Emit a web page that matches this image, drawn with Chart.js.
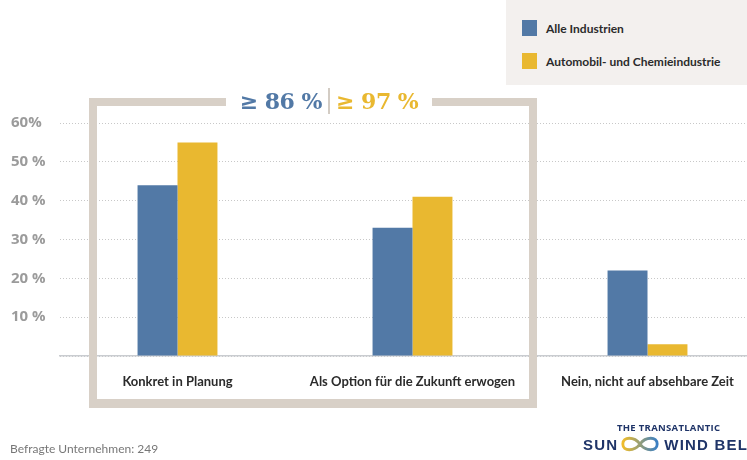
<!DOCTYPE html>
<html lang="de">
<head>
  <meta charset="UTF-8" />
  <title>Umstellung auf erneuerbare Energien</title>
  <script src="https://cdn.jsdelivr.net/npm/chart.js"></script>
  <style>
    * { box-sizing: border-box; }
    html, body {
      margin: 0;
      width: 747px;
      height: 460px;
      overflow: hidden;
      background: #fff;
      font-family: 'Lato', sans-serif;
    }
    #wrap { position: relative; width: 747px; height: 460px; overflow: hidden; }
    #chart { position: absolute; left: 0; top: 0; }
    .legend {
      position: absolute;
      left: 506px; top: 0;
      width: 241px; height: 85px;
      background: #f3f0ee;
      padding: 20px 0 0 16px;
    }
    .legend-item {
      display: flex; align-items: center;
      font: bold 12px 'Lato', sans-serif;
      color: #2b2b2b;
      height: 16px;
      margin-bottom: 17px;
    }
    .legend-item span.box { width: 15px; height: 16px; margin-right: 9px; }
    .frame-side {
      position: absolute; background: #d8d0c7;
    }
    .badge {
      position: absolute; top: 88px; left: 226px; width: 206px;
      text-align: center;
      font: bold 22px 'DejaVu Serif', serif;
      letter-spacing: -0.5px;
    }
    .badge .sep { display: inline-block; width: 2px; height: 26px; background: #d3ccc4; vertical-align: -5px; margin: 0 6px; }
    .note {
      position: absolute; left: 10px; top: 441px;
      font: 12px 'Lato', sans-serif; color: #777;
    }
    .logo { position: absolute; left: 583px; top: 421px; color: #1f3468; white-space: nowrap; }
    .logo .small { font: bold 9.5px 'Open Sans', sans-serif; margin-left: 34px; letter-spacing: 0.3px; }
    .logo .big { font: bold 15px 'Liberation Sans', sans-serif; letter-spacing: 1.2px; display: flex; align-items: center; }
  </style>
</head>
<body>
<div id="wrap">
  <canvas id="chart" width="770" height="460"></canvas>

  <div class="frame-side" style="left:89px; top:98px; width:8px; height:310px;"></div>
  <div class="frame-side" style="left:529px; top:98px; width:8px; height:310px;"></div>
  <div class="frame-side" style="left:89px; top:399px; width:448px; height:9px;"></div>
  <div class="frame-side" style="left:89px; top:98px; width:137px; height:8px;"></div>
  <div class="frame-side" style="left:432px; top:98px; width:105px; height:8px;"></div>
  <div class="badge">
    <span style="color:#5279a6">&ge; 86 %</span><span class="sep"></span><span style="color:#e9b830">&ge; 97 %</span>
  </div>

  <div class="legend" id="legend"></div>

  <div class="note">Befragte Unternehmen: 249</div>
  <div class="logo">
    <div class="small">THE TRANSATLANTIC</div>
    <div class="big">SUN
      <svg width="42" height="20" viewBox="0 0 44 20" style="margin:0 3px 0 1px">
        <defs>
          <linearGradient id="g" x1="0" x2="1">
            <stop offset="0" stop-color="#f0bd2a"/><stop offset="1" stop-color="#3a7fc4"/>
          </linearGradient>
        </defs>
        <path d="M4 10 C4 2 16 2 22 10 C28 18 40 18 40 10 C40 2 28 2 22 10 C16 18 4 18 4 10 Z" fill="none" stroke="url(#g)" stroke-width="3"/>
      </svg>WIND BELT</div>
  </div>
</div>

<script>
  const categories = ["Konkret in Planung", "Als Option für die Zukunft erwogen", "Nein, nicht auf absehbare Zeit"];
  const seriesNames = ["Alle Industrien", "Automobil- und Chemieindustrie"];
  const alleIndustrien = [44, 33, 22];
  const automobilChemie = [55, 41, 3];
  const seriesColors = ["#5279a6", "#e9b830"];
  const yTicks = [10, 20, 30, 40, 50, 60];

  // HTML-Legende aus den Datensätzen
  const legend = document.getElementById("legend");
  seriesNames.forEach((name, i) => {
    const item = document.createElement("div");
    item.className = "legend-item";
    item.innerHTML = '<span class="box" style="background:' + seriesColors[i] + '"></span>' + name;
    legend.appendChild(item);
  });

  const ctx = document.getElementById("chart").getContext("2d");
  new Chart(ctx, {
    type: "bar",
    data: {
      labels: categories,
      datasets: [
        { label: seriesNames[0], data: alleIndustrien, backgroundColor: seriesColors[0] },
        { label: seriesNames[1], data: automobilChemie, backgroundColor: seriesColors[1] }
      ]
    },
    options: {
      responsive: false,
      animation: false,
      layout: { padding: { left: 11, top: 123, right: 5, bottom: 0 } },
      datasets: { bar: { categoryPercentage: 0.34, barPercentage: 1.0 } },
      plugins: { legend: { display: false }, tooltip: { enabled: false } },
      scales: {
        x: {
          grid: { display: false, drawTicks: false },
          border: { display: true, color: "#c9ccd0", width: 1.5 },
          ticks: {
            padding: 18,
            color: "#2b2b2b",
            font: { family: "'Lato', sans-serif", size: 13, weight: "bold" },
            maxRotation: 0
          },
          afterFit: (scale) => { scale.height = 104; }
        },
        y: {
          min: 0,
          max: 60,
          afterBuildTicks: (scale) => { scale.ticks = [0].concat(yTicks).map(v => ({ value: v })); },
          afterFit: (scale) => { scale.width = 49; },
          grid: { color: "#c8c8c8", drawTicks: false, lineWidth: 1 },
          border: { display: false, dash: [1, 2] },
          ticks: {
            crossAlign: "far",
            padding: 0,
            color: "#9b9b9b",
            font: { family: "'Open Sans', sans-serif", size: 15, weight: "bold" },
            callback: (v) => v === 0 ? "" : (v === 60 ? v + "%" : v + " %")
          }
        }
      }
    }
  });
</script>
</body>
</html>
